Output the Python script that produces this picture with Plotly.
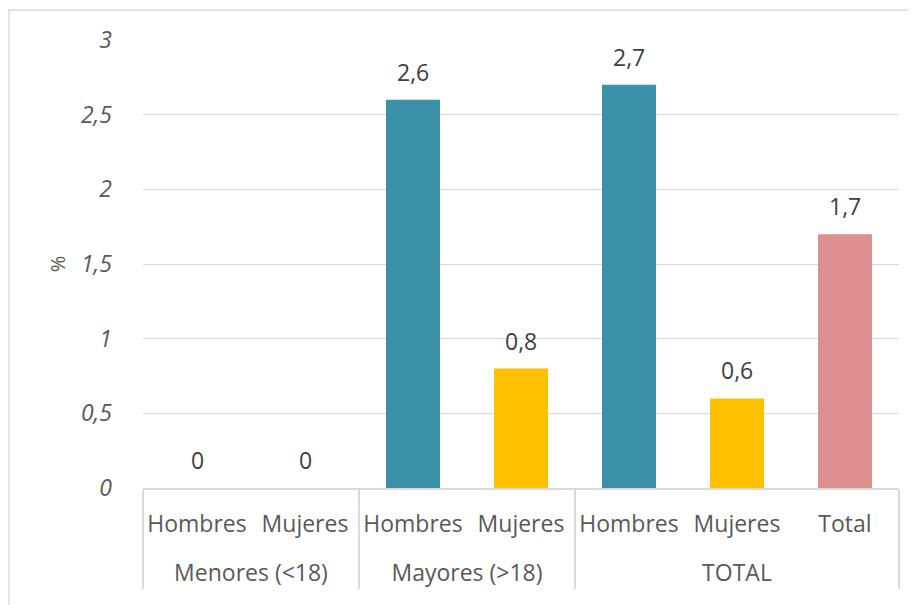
import plotly.graph_objects as go

groups = ["Menores (<18)", "Menores (<18)", "Mayores (>18)", "Mayores (>18)", "TOTAL", "TOTAL", "TOTAL"]
categories = ["Hombres", "Mujeres", "Hombres", "Mujeres", "Hombres", "Mujeres", "Total"]
values = [0, 0, 2.6, 0.8, 2.7, 0.6, 1.7]
y_ticks = [0, 0.5, 1, 1.5, 2, 2.5, 3]

color_map = {"Hombres": "#3A91A8", "Mujeres": "#FFC000", "Total": "#DE8F8F"}
colors = [color_map[c] for c in categories]
labels = [f"{v:g}".replace(".", ",") for v in values]

# page offset of 8px (body margin) is accounted for in the margins
ML, MR, MT, MB = 135, 25, 32, 125
PW = 916 - ML - MR
PH = 605 - MT - MB

fig = go.Figure()
fig.add_trace(go.Bar(
    x=[["<br>" + g for g in groups], categories],
    y=values,
    marker=dict(color=colors, line=dict(width=0)),
    width=0.5,
    hoverinfo="skip",
))

for i, (v, t) in enumerate(zip(values, labels)):
    fig.add_annotation(x=i, y=v, xref="x", yref="y", text=t, showarrow=False,
                       yanchor="middle", yshift=28,
                       font=dict(family="Open Sans", size=23, color="#404040"))

fig.update_layout(
    width=916, height=605,
    margin=dict(l=ML, r=MR, t=MT, b=MB, autoexpand=False),
    paper_bgcolor="white", plot_bgcolor="white",
    separators=",.",
    showlegend=False,
    yaxis=dict(
        range=[0, 3],
        tickvals=y_ticks,
        ticktext=[f"{t:g}".replace(".", ",") for t in y_ticks],
        tickfont=dict(family="Open Sans", size=23, color="#595959", style="italic"),
        gridcolor="#D9D9D9", gridwidth=1.3,
        zeroline=False, showline=False, automargin=False,
        ticks="", ticklabelstandoff=30,
        title=dict(text="%", font=dict(family="Open Sans", size=20, color="#595959"), standoff=9),
    ),
    xaxis=dict(
        type="multicategory",
        tickfont=dict(family="Open Sans", size=23, color="#595959"),
        tickangle=0, automargin=False,
        showline=True, linecolor="#D9D9D9", linewidth=1.5,
        showdividers=True, dividercolor="#D9D9D9", dividerwidth=1.5,
        ticks="", showgrid=False, ticklabelstandoff=15,
    ),
    shapes=[dict(type="rect", xref="paper", yref="paper",
                 x0=(1 - ML) / PW, x1=1.2, y0=-0.5, y1=(PH + MT - 2) / PH,
                 line=dict(color="#D9D9D9", width=1.3), layer="below")],
)

fig.write_html("out.html")
